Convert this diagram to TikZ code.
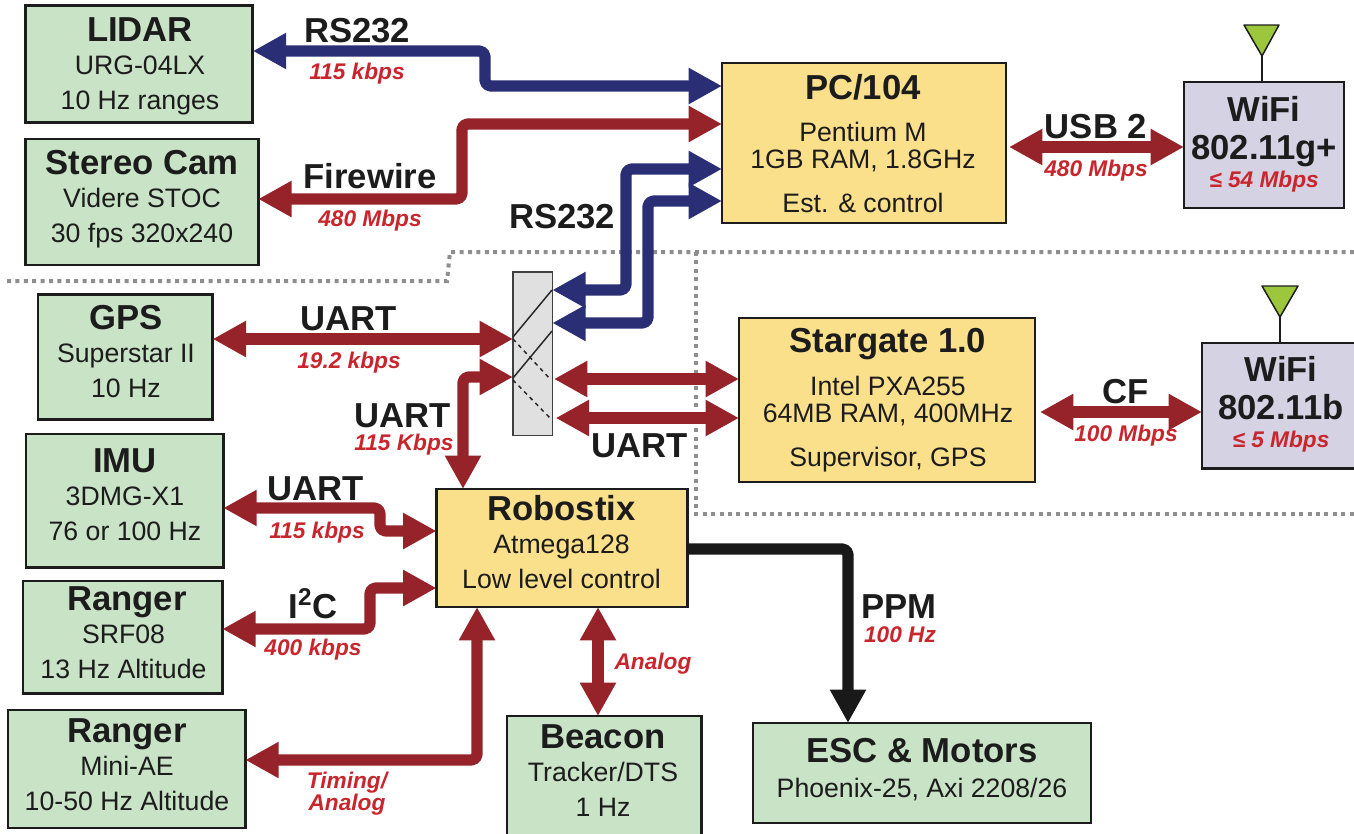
\documentclass[tikz,border=0pt]{standalone}
\usepackage{fontspec}
\setmainfont{Liberation Sans}
\usetikzlibrary{arrows.meta}
\definecolor{lnkred}{HTML}{97232A}
\definecolor{lnkblue}{HTML}{2A2E74}
\definecolor{txtred}{HTML}{C9252D}
\definecolor{ink}{HTML}{1C1C1C}
\definecolor{grn}{HTML}{C9E3C6}
\definecolor{yel}{HTML}{FBE08B}
\definecolor{lil}{HTML}{D5D2E3}
\definecolor{mux}{HTML}{E0E0E0}
\definecolor{dotc}{HTML}{8E8E8E}
\definecolor{ant}{HTML}{9CC63B}
\newcommand{\ttl}[1]{{\fontsize{26}{26}\selectfont\bfseries #1}}
\newcommand{\rdt}[1]{{\fontsize{17}{20}\selectfont\bfseries\itshape\color{txtred}#1}}
\tikzset{
  box/.style={draw=ink,line width=2.2pt,inner sep=0pt,outer sep=0pt,anchor=north west},
  greenbox/.style={box,fill=grn},
  yellowbox/.style={box,fill=yel},
  lilacbox/.style={box,fill=lil},
  boxtext/.style={anchor=base,align=center,inner sep=0pt,text=ink,font=\fontsize{20}{26}\selectfont},
  linklabel/.style={anchor=base,inner sep=0pt,text=ink,font=\fontsize{26}{28}\selectfont\bfseries},
  ratelabel/.style={anchor=base,inner sep=0pt,align=center,text=txtred,font=\fontsize{17}{16.5}\selectfont\bfseries\itshape},
  fat/.style={line width=8.4pt,rounded corners=4pt,line join=round},
  redlink/.style={fat,draw=lnkred,{Triangle[length=25pt,width=25.5pt]}-{Triangle[length=25pt,width=25.5pt]}},
  bluelink/.style={fat,draw=lnkblue,{Triangle[length=25pt,width=25.5pt]}-{Triangle[length=25pt,width=25.5pt]}},
  blacklink/.style={fat,draw=black!90,-{Triangle[length=25pt,width=25.5pt]}},
  dotline/.style={draw=dotc,line width=3pt,dash pattern=on 3pt off 3.3pt},
}
\begin{document}
\begin{tikzpicture}[x=0.75pt,y=-0.75pt]
\useasboundingbox (0,0) rectangle (1354,833);

% dotted separators
\coordinate (d1) at (7,281);
\coordinate (d2) at (447,281);
\coordinate (d3) at (450,252);
\coordinate (d4) at (1354,252);
\coordinate (d5) at (696,252);
\coordinate (d6) at (696,514);
\coordinate (d7) at (1354,514);
\draw[dotline] (d1) -- (d2) -- (d3) -- (d4);
\draw[dotline] (d5) -- (d6) -- (d7);

% boxes
\node[greenbox,minimum width=170.5pt,minimum height=88pt] (lidar) at (25.5,5.5) {};
\node[greenbox,minimum width=174.5pt,minimum height=94.5pt] (stereo) at (25.5,139) {};
\node[greenbox,minimum width=131pt,minimum height=93.5pt] (gps) at (38,294.5) {};
\node[greenbox,minimum width=148pt,minimum height=100pt] (imu) at (26,434) {};
\node[greenbox,minimum width=149.5pt,minimum height=84.5pt] (ranger1) at (23,581) {};
\node[greenbox,minimum width=178pt,minimum height=88.5pt] (ranger2) at (8,710) {};
\node[greenbox,minimum width=146pt,minimum height=92pt] (beacon) at (507,716) {};
\node[greenbox,minimum width=253.5pt,minimum height=75pt] (esc) at (753,723) {};
\node[yellowbox,minimum width=213pt,minimum height=120pt] (pc) at (722,63) {};
\node[yellowbox,minimum width=222pt,minimum height=123pt] (stargate) at (739,318) {};
\node[yellowbox,minimum width=188pt,minimum height=88.5pt] (robostix) at (436.5,489) {};
\node[lilacbox,minimum width=120pt,minimum height=94.5pt] (wifi1) at (1184,82) {};
\node[lilacbox,minimum width=122pt,minimum height=94pt] (wifi2) at (1202,343) {};
\node[draw=black!75,line width=1.1pt,fill=mux,inner sep=0pt,outer sep=0pt,anchor=north west,minimum width=29.5pt,minimum height=122.5pt] (muxbox) at (513,272) {};

% multiplexer wiring
\coordinate (m1) at (513,337);
\coordinate (m2) at (552,290);
\coordinate (m3) at (513,378);
\coordinate (m4) at (552,331);
\coordinate (m5) at (513,339);
\coordinate (m6) at (551,380);
\coordinate (m7) at (513,380);
\coordinate (m8) at (550,418);
\draw[black!85,line width=1.1pt] (m1) -- (m2);
\draw[black!85,line width=1.1pt] (m3) -- (m4);
\draw[black!85,line width=1.1pt,dashed] (m5) -- (m6);
\draw[black!85,line width=1.1pt,dashed] (m7) -- (m8);

% antennas
\coordinate (a1l) at (1244,25);
\coordinate (a1r) at (1279,25);
\coordinate (a1t) at (1262,56);
\coordinate (a2l) at (1262,286);
\coordinate (a2r) at (1298,286);
\coordinate (a2t) at (1280,317);
\draw[ink,line width=1.1pt] (a1t) -- (a1t |- wifi1.north);
\draw[ink,line width=1.1pt] (a2t) -- (a2t |- wifi2.north);
\draw[ink,line width=1.1pt,fill=ant,line join=round] (a1l) -- (a1r) -- (a1t) -- cycle;
\draw[ink,line width=1.1pt,fill=ant,line join=round] (a2l) -- (a2r) -- (a2t) -- cycle;

% connectors
\draw[bluelink] (lidar.east |- 0,51) -- (485,51) -- (485,86) -- (pc.west |- 0,86);
\draw[redlink] (stereo.east |- 0,199) -- (462,199) -- (462,124) -- (pc.west |- 0,124);
\draw[bluelink] (muxbox.east |- 0,290) -- (626,290) -- (626,169) -- (pc.west |- 0,169);
\draw[bluelink] (muxbox.east |- 0,323) -- (648,323) -- (648,201) -- (pc.west |- 0,201);
\draw[redlink,shorten <=2.2pt] (pc.east |- 0,147) -- (wifi1.west |- 0,147);
\draw[redlink] (gps.east |- 0,339) -- (muxbox.west |- 0,339);
\draw[redlink] (robostix.north -| 463,0) -- (463,377) -- (muxbox.west |- 0,377);
\draw[redlink,shorten <=1.2pt] (muxbox.east |- 0,379) -- (stargate.west |- 0,379);
\draw[redlink,shorten <=2.5pt] (muxbox.east |- 0,418) -- (stargate.west |- 0,418);
\draw[redlink,shorten <=3.7pt] (stargate.east |- 0,412) -- (wifi2.west |- 0,412);
\draw[redlink] (imu.east |- 0,508) -- (380,508) -- (380,531) -- (robostix.west |- 0,531);
\draw[redlink] (ranger1.east |- 0,629) -- (370,629) -- (370,588) -- (robostix.west |- 0,588);
\draw[redlink] (ranger2.east |- 0,760) -- (477,760) -- (robostix.south -| 477,0);
\draw[redlink] (robostix.south -| 598,0) -- (beacon.north -| 598,0);
\draw[blacklink] (robostix.east |- 0,549) -- (848,549) -- (esc.north -| 848,0);

% box texts
\node[boxtext] (lidarT) at (140,109) {\ttl{LIDAR}\\[-1.5pt]URG-04LX\\10 Hz ranges};
\node[boxtext] (stereoT) at (142,242) {\ttl{Stereo Cam}\\[-1.5pt]Videre STOC\\30 fps 320x240};
\node[boxtext] (gpsT) at (126,397) {\ttl{GPS}\\[-1pt]Superstar II\\10 Hz};
\node[boxtext] (imuT) at (125,540) {\ttl{IMU}\\[-1.5pt]3DMG-X1\\76 or 100 Hz};
\node[boxtext] (ranger1T) at (123.5,678) {\hspace*{5pt}\ttl{Ranger}\\[-1.5pt]SRF08\\13 Hz Altitude};
\node[boxtext] (ranger2T) at (127,810) {\ttl{Ranger}\\[-1.5pt]Mini-AE\\10-50 Hz Altitude};
\node[boxtext] (beaconT) at (603,816) {\ttl{Beacon}\\[-1pt]Tracker/DTS\\1 Hz};
\node[boxtext] (escT) at (922,797) {\ttl{ESC \& Motors}\\Phoenix-25, Axi 2208/26};
\node[boxtext] (pcT) at (863,212) {\ttl{PC/104}\\[5.5pt]Pentium M\\[-6pt]1GB RAM, 1.8GHz\\[7pt]Est. \& control};
\node[boxtext] (stargateT) at (888,466) {\ttl{Stargate 1.0}\\[6pt]Intel PXA255\\[-6pt]64MB RAM, 400MHz\\[7pt]Supervisor, GPS};
\node[boxtext] (robostixT) at (561.5,588) {\ttl{Robostix}\\[-1.5pt]Atmega128\\Low level control};
\node[boxtext] (wifi1T) at (1264,187) {\ttl{WiFi}\\[2.5pt]\ttl{802.11g+}\\[-5.5pt]\rdt{≤ 54 Mbps}};
\node[boxtext] (wifi2T) at (1281,447) {\ttl{WiFi}\\[2.5pt]\ttl{802.11b}\\[-5.5pt]\rdt{≤ 5 Mbps}};

% connector labels
\node[linklabel] (l1) at (357,42) {RS232};
\node[ratelabel] (r1) at (357,79) {115 kbps};
\node[linklabel] (l2) at (370,188) {Firewire};
\node[ratelabel] (r2) at (370,226) {480 Mbps};
\node[linklabel] (l3) at (562,228) {RS232};
\node[linklabel] (l4) at (1096,138) {USB 2};
\node[ratelabel] (r4) at (1096,176) {480 Mbps};
\node[linklabel] (l5) at (349,330) {UART};
\node[ratelabel] (r5) at (349,368) {19.2 kbps};
\node[linklabel] (l6) at (403,427) {UART};
\node[ratelabel] (r6) at (404,450) {115 Kbps};
\node[linklabel] (l7) at (640,457) {UART};
\node[linklabel] (l8) at (1126,403) {CF};
\node[ratelabel] (r8) at (1126,441) {100 Mbps};
\node[linklabel] (l9) at (316,500) {UART};
\node[ratelabel] (r9) at (317,538) {115 kbps};
\node[linklabel] (l10) at (313,618) {I\textsuperscript{2}C};
\node[ratelabel] (r10) at (313,655) {400 kbps};
\node[ratelabel] (r11) at (347,810) {Timing/\\Analog};
\node[ratelabel] (r12) at (653,669) {Analog};
\node[linklabel] (l13) at (899,618) {PPM};
\node[ratelabel] (r13) at (900,642) {100 Hz};
\end{tikzpicture}
\end{document}
